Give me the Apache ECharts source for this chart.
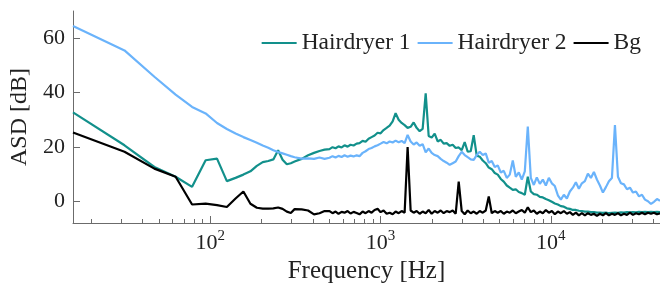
<!DOCTYPE html>
<html>
<head>
<meta charset="utf-8">
<script src="https://cdn.jsdelivr.net/npm/echarts@6/dist/echarts.min.js"></script>
<style>
  html, body { margin: 0; padding: 0; background: #fff; }
  #main { width: 660px; height: 283px; }
</style>
</head>
<body>
<div id="main"></div>
<script>
// frequency bins [Hz]
var freqHz = [
  15.6, 31.3, 46.9, 62.5, 78.1, 93.8, 109.4, 125, 140.6, 156.3, 171.9, 187.5,
  203.1, 218.8, 234.4, 250, 265.6, 281.3, 296.9, 312.5, 343.8, 375, 406.3, 437.5, 468.8,
  501, 522, 544, 566, 590, 614, 640, 666, 694, 723,
  752, 784, 816, 850, 885, 922, 960, 1000, 1041, 1085,
  1130, 1177, 1225, 1276, 1329, 1384, 1441, 1501, 1564, 1628,
  1696, 1766, 1840, 1916, 1995, 2078, 2164, 2254, 2347, 2444,
  2546, 2651, 2761, 2876, 2995, 3119, 3248, 3383, 3523, 3669,
  3822, 3981, 4146, 4318, 4497, 4683, 4877, 5079, 5290, 5510,
  5738, 5976, 6224, 6482, 6751, 7031, 7322, 7626, 7943, 8272,
  8615, 8972, 9345, 9732, 10136, 10556, 10994, 11450, 11925, 12419,
  12934, 13471, 14029, 14611, 15217, 15849, 16506, 17191, 17904, 18646,
  19420, 20225, 21064, 21937, 22847, 23795, 24782, 25809, 26880, 27994,
  29155, 30365, 31623, 32934, 34300, 35723, 37204, 38747, 40354, 42027, 43770
];

// ASD [dB]
var hairdryer1 = [
  32.7, 20.6, 12.6, 9.0, 5.3, 15.1, 15.7, 7.4, 8.6, 9.8, 11.0, 13.0,
  14.4, 14.8, 15.4, 18.8, 15.3, 13.6, 14.0, 14.6, 15.6, 16.9, 17.8, 18.5, 19.0,
  19.2, 19.9, 19.5, 20.2, 19.8, 20.6, 20.1, 20.8, 20.5, 21.2,
  21.4, 22.2, 21.9, 23.0, 23.6, 24.2, 25.2, 25.0, 26.2, 27.0,
  27.8, 29.4, 32.4, 30.0, 28.8, 28.0, 27.0, 27.4, 29.0, 27.0,
  25.8, 26.6, 39.7, 24.0, 23.4, 24.9, 22.0, 22.6, 21.2, 21.4,
  20.4, 20.8, 19.6, 19.8, 18.8, 21.8, 18.2, 18.4, 24.3, 16.8,
  16.4, 15.0, 14.0, 12.4, 11.8, 10.4, 9.8, 8.2, 7.2, 5.8,
  5.0, 4.2, 4.4, 3.4, 3.0, 2.4, 9.0, 3.6, 2.6, 2.4,
  1.6, 1.4, 0.8, 0.4, -0.2, -0.8, -1.2, -1.8, -2.0, -2.6,
  -2.8, -3.2, -3.2, -3.5, -3.6, -3.8, -3.8, -4.0, -4.0, -4.2,
  -4.2, -4.3, -4.2, -4.4, -4.3, -4.2, -4.3, -4.1, -4.2, -4.0,
  -4.1, -4.0, -4.1, -3.9, -4.0, -3.9, -4.0, -3.9, -4.0, -3.9, -4.0
];

var hairdryer2 = [
  64.5, 55.5, 45.8, 39.2, 34.7, 32.3, 28.8, 26.6, 24.9, 23.6, 22.5, 21.5,
  20.5, 19.7, 18.8, 18.1, 17.6, 17.1, 16.6, 16.2, 15.7, 15.8, 15.6, 16.1, 15.6,
  16.0, 16.6, 16.1, 16.7, 16.3, 16.9, 16.4, 16.8, 16.5, 16.9,
  16.6, 17.8, 18.4, 19.2, 19.6, 20.2, 20.6, 21.2, 21.8, 21.3,
  22.0, 21.6, 22.3, 21.7, 22.2, 21.4, 24.4, 22.0, 20.9, 21.6,
  20.4, 21.0, 18.0, 19.4, 17.8, 17.0, 16.6, 15.6, 14.8, 14.2,
  13.4, 14.0, 14.6, 16.6, 18.2, 17.0, 16.2, 15.4, 15.2, 17.0,
  18.2, 17.0, 17.6, 14.2, 14.8, 12.6, 13.2, 10.6, 11.2, 8.6,
  9.8, 15.0, 9.0, 10.6, 8.0, 11.0, 27.5, 8.6, 6.0, 8.8,
  6.4, 8.0, 5.8, 8.6, 6.6, 5.6, 2.2, 0.6, 2.4, 1.0,
  3.6, 5.0, 7.0, 4.6, 6.6, 7.4, 10.2, 8.6, 10.8, 8.0,
  5.8, 3.2, 5.2, 7.4, 8.6, 28.0, 9.0, 6.6, 6.2, 4.4,
  5.0, 3.2, 3.6, 1.8, 2.4, 0.6, 0.0, -1.0, -0.2, 0.8, 0.2
];

var background = [
  25.3, 18.2, 12.0, 9.0, -1.2, -0.9, -1.4, -2.1, 1.0, 3.6, -0.9, -2.4,
  -2.7, -2.7, -2.6, -2.3, -2.8, -3.8, -4.3, -2.9, -3.0, -3.4, -4.8, -4.4, -3.6,
  -3.6, -4.4, -3.8, -4.6, -3.9, -4.2, -3.6, -4.5, -3.9, -4.3,
  -4.8, -3.8, -4.4, -3.6, -4.2, -3.2, -2.8, -4.0, -3.4, -4.6,
  -4.2, -4.8, -3.8, -4.4, -3.6, -4.2, 19.9, -3.4, -4.2, -3.6,
  -4.6, -3.8, -4.4, -3.2, -4.6, -3.6, -4.2, -3.4, -4.4, -3.6,
  -4.0, -3.4, -4.6, 7.2, -3.6, -4.8, -3.4, -4.4, -3.8, -4.6,
  -3.6, -4.2, -3.4, 1.8, -4.4, -3.6, -4.2, -3.6, -4.6, -3.8,
  -4.2, -3.4, -4.4, -3.8, -3.2, -4.2, -2.2, -4.0, -3.4, -4.6,
  -3.8, -4.4, -3.2, -4.2, -3.6, -4.8, -3.8, -4.4, -3.6, -4.6,
  -4.0, -5.0, -4.2, -5.2, -4.4, -5.2, -4.4, -5.0, -4.6, -5.4,
  -4.6, -5.2, -4.4, -5.2, -4.6, -5.0, -4.4, -5.2, -4.6, -5.0,
  -4.2, -5.0, -4.4, -4.8, -4.2, -4.8, -4.2, -4.6, -4.2, -4.8, -4.4
];

var yTicks = [0, 20, 40, 60];
var xMinorTicks = [20, 30, 40, 50, 60, 70, 80, 90, 200, 300, 400, 500, 600, 700, 800, 900,
  2000, 3000, 4000, 5000, 6000, 7000, 8000, 9000, 20000, 30000, 40000];

var xMin = 15.6, xMax = 43770;
var font = 'Liberation Serif';
var axisGray = '#6b6b6b';

function pairs(values) {
  return freqHz.map(function (f, i) { return [f, values[i]]; });
}

var chart = echarts.init(document.getElementById('main'), null, { renderer: 'canvas' });

var option = {
  animation: false,
  backgroundColor: '#fff',
  textStyle: { fontFamily: font },
  grid: { left: 73, right: 0, top: 11, bottom: 60, outerBoundsMode: 'none' },
  legend: {
    right: 14,
    top: 26,
    icon: 'rect',
    itemWidth: 35,
    itemHeight: 2,
    itemGap: 7,
    textStyle: { fontFamily: font, fontSize: 23.5, color: '#222' },
    data: ['Hairdryer 1', 'Hairdryer 2', 'Bg']
  },
  xAxis: [{
    type: 'log',
    logBase: 10,
    min: xMin,
    max: xMax,
    name: 'Frequency [Hz]',
    nameLocation: 'middle',
    nameGap: 36,
    nameTextStyle: { fontFamily: font, fontSize: 25, color: '#222' },
    axisLine: { onZero: false, lineStyle: { color: axisGray, width: 1 } },
    axisTick: { inside: true, length: 7, lineStyle: { color: axisGray } },
    splitLine: { show: false },
    axisLabel: {
      showMinLabel: false,
      showMaxLabel: false,
      margin: 6,
      formatter: function (v) {
        return '{b|10}{s|' + Math.round(Math.log10(v)) + '}';
      },
      rich: {
        b: { fontFamily: font, fontSize: 22, color: '#222', verticalAlign: 'bottom' },
        s: { fontFamily: font, fontSize: 15, color: '#222', verticalAlign: 'bottom', padding: [0, 0, 10, 0] }
      }
    }
  }, {
    // minor log ticks
    type: 'value',
    position: 'bottom',
    min: Math.log10(xMin),
    max: Math.log10(xMax),
    axisLine: { show: false, onZero: false },
    axisLabel: { show: false },
    splitLine: { show: false },
    axisTick: {
      inside: true,
      length: 4,
      lineStyle: { color: axisGray },
      customValues: xMinorTicks.map(function (v) { return Math.log10(v); })
    }
  }],
  yAxis: {
    type: 'value',
    min: -8,
    max: 70,
    name: 'ASD [dB]',
    nameLocation: 'middle',
    nameGap: 34,
    nameTextStyle: { fontFamily: font, fontSize: 24, color: '#222' },
    axisLine: { show: true, onZero: false, lineStyle: { color: axisGray, width: 1 } },
    axisTick: { show: true, inside: true, length: 7, lineStyle: { color: axisGray }, customValues: yTicks },
    axisLabel: { margin: 8, fontFamily: font, fontSize: 22, color: '#222', customValues: yTicks },
    splitLine: { show: false }
  },
  series: [{
    name: 'Hairdryer 1',
    type: 'line',
    showSymbol: false,
    symbol: 'none',
    color: '#12908b',
    lineStyle: { width: 2.2 },
    data: pairs(hairdryer1)
  }, {
    name: 'Hairdryer 2',
    type: 'line',
    showSymbol: false,
    symbol: 'none',
    color: '#6ab3fb',
    lineStyle: { width: 2.2 },
    data: pairs(hairdryer2)
  }, {
    name: 'Bg',
    type: 'line',
    showSymbol: false,
    symbol: 'none',
    color: '#000000',
    lineStyle: { width: 2.2 },
    data: pairs(background)
  }]
};

chart.setOption(option);
</script>
</body>
</html>
